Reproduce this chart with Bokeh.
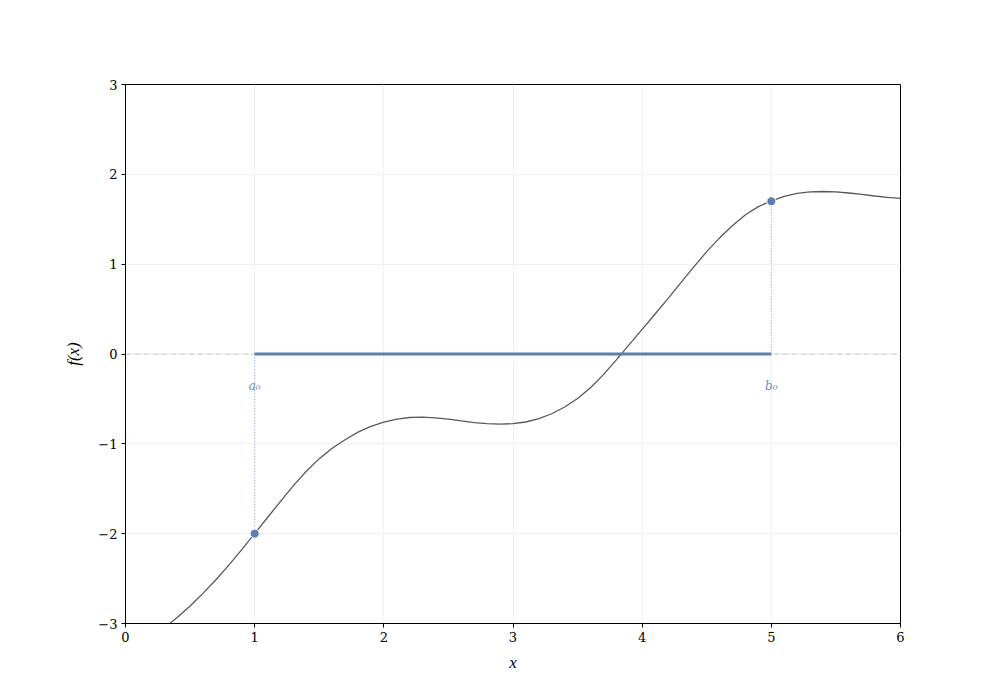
from bokeh.plotting import figure
from bokeh.models import ColumnDataSource, FixedTicker
from bokeh.embed import file_html
from bokeh.resources import INLINE
from bokeh.core.properties import value

# ---- data ----
curve_x = [0.0, 0.1, 0.2, 0.3, 0.4, 0.5, 0.6, 0.7, 0.8, 0.9,
           1.0, 1.1, 1.2, 1.3, 1.4, 1.5, 1.6, 1.7, 1.8, 1.9,
           2.0, 2.1, 2.2, 2.3, 2.4, 2.5, 2.6, 2.7, 2.8, 2.9,
           3.0, 3.1, 3.2, 3.3, 3.4, 3.5, 3.6, 3.7, 3.8, 3.9,
           4.0, 4.1, 4.2, 4.3, 4.4, 4.5, 4.6, 4.7, 4.8, 4.9,
           5.0, 5.1, 5.2, 5.3, 5.4, 5.5, 5.6, 5.7, 5.8, 5.9, 6.0]
curve_y = [-3.345, -3.255, -3.157, -3.05, -2.933, -2.805, -2.665, -2.513, -2.35, -2.178,
           -2.00, -1.82, -1.64, -1.465, -1.305, -1.165, -1.05, -0.955, -0.87, -0.805,
           -0.758, -0.725, -0.707, -0.702, -0.71, -0.725, -0.745, -0.763, -0.775, -0.78,
           -0.775, -0.757, -0.72, -0.665, -0.59, -0.495, -0.375, -0.23, -0.065, 0.105,
           0.275, 0.445, 0.617, 0.795, 0.97, 1.14, 1.293, 1.43, 1.55, 1.64,
           1.705, 1.755, 1.787, 1.804, 1.809, 1.804, 1.792, 1.776, 1.759, 1.744, 1.732]

bracket_x = [1.0, 5.0]          # a0, b0
bracket_fx = [-2.0, 1.70]       # f(a0), f(b0)
bracket_labels = ["a\u2080", "b\u2080"]
label_y = -0.36

x_ticks = [0, 1, 2, 3, 4, 5, 6]
y_ticks = [-3, -2, -1, 0, 1, 2, 3]
y_tick_labels = ["\u22123", "\u22122", "\u22121", "0", "1", "2", "3"]
x_range = (0, 6)
y_range = (-3, 3)

# ---- figure ----
p = figure(width=1000, height=700, x_range=x_range, y_range=y_range,
           output_backend="svg", toolbar_location=None,
           min_border_left=125, min_border_right=100, min_border_top=84,
           min_border_bottom=77)
p.background_fill_color = "white"
p.border_fill_color = "white"
p.outline_line_color = "black"
p.outline_line_width = 1

p.xaxis.ticker = FixedTicker(ticks=x_ticks)
p.yaxis.ticker = FixedTicker(ticks=y_ticks)
p.yaxis.major_label_overrides = {t: l for t, l in zip(y_ticks, y_tick_labels)}
for ax in (p.xaxis, p.yaxis):
    ax.axis_line_color = "black"
    ax.major_tick_line_color = "black"
    ax.major_tick_out = 4
    ax.major_tick_in = 0
    ax.minor_tick_line_color = None
    ax.major_label_text_font = "DejaVu Serif"
    ax.major_label_text_font_size = "13px"
    ax.major_label_text_color = "black"
    ax.major_label_standoff = 4
    ax.axis_label_text_font = "Liberation Serif"
    ax.axis_label_text_font_style = "italic"
    ax.axis_label_text_font_size = "17px"
    ax.axis_label_text_color = "black"
p.xaxis.axis_label = "x"
p.yaxis.axis_label = "f(x)"
p.xaxis.axis_label_standoff = 8
p.yaxis.axis_label_standoff = 12

p.grid.grid_line_color = "#f1f1f4"
p.grid.grid_line_width = 1

# zero line
p.line(x=list(x_range), y=[0, 0], line_color="#acd29c", line_width=1,
       line_dash="6 3", line_alpha=0.8)

# function curve
p.line(x=curve_x, y=curve_y, line_color="#58595e", line_width=1.3)

# dotted drop lines
for bx, fy in zip(bracket_x, bracket_fx):
    p.line(x=[bx, bx], y=[0, fy], line_color="#9cb2d6", line_width=1,
           line_dash="1 2")

# bracket segment
p.line(x=bracket_x, y=[0, 0], line_color="#5b7fb0", line_width=3)

# points
p.scatter(x=bracket_x, y=bracket_fx, size=9, fill_color="#5b7fb0",
          line_color="white", line_width=1)

# labels
src = ColumnDataSource(dict(x=bracket_x, y=[label_y] * len(bracket_x), t=bracket_labels))
p.text(x="x", y="y", text="t", source=src, text_font=value("DejaVu Serif"),
       text_font_style="italic", text_font_size="12px", text_color="#6a8cc2",
       text_align="center", text_baseline="middle")

open("out.html", "w").write(file_html(p, INLINE))
